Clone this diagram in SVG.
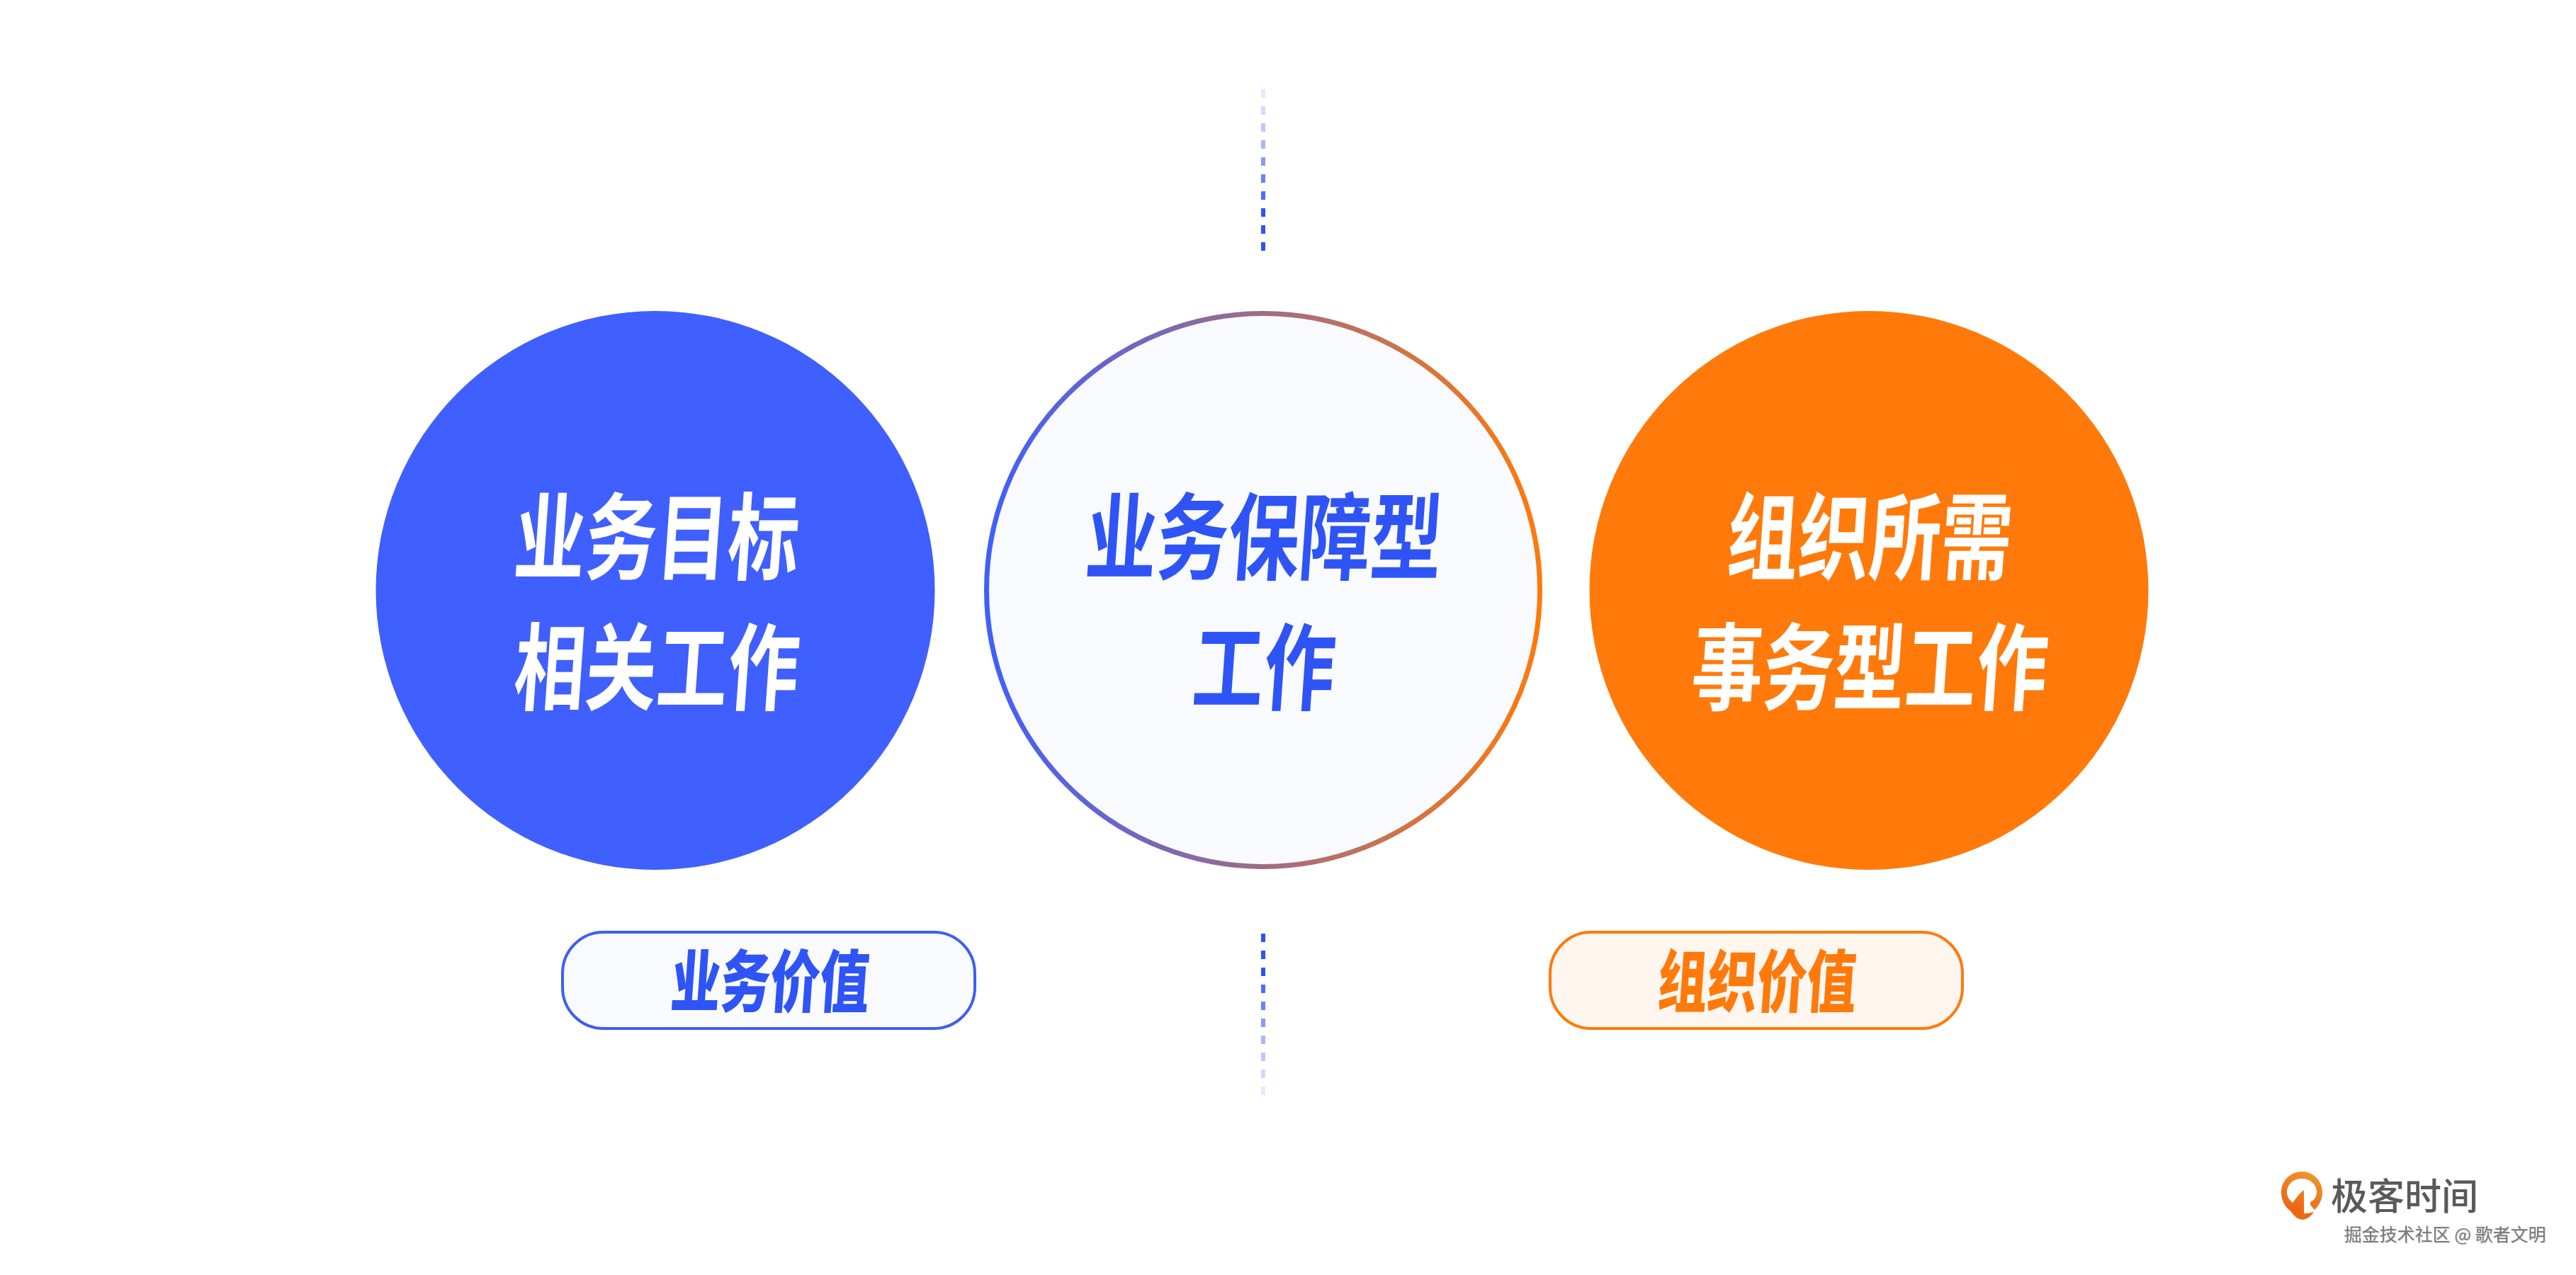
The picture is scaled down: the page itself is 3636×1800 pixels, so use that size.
<svg xmlns="http://www.w3.org/2000/svg" width="3636" height="1800" viewBox="0 0 3636 1800">
<style>
text{font-family:"Noto Sans CJK SC","Noto Sans",sans-serif;text-anchor:middle}
.big{font-size:134px;font-weight:700}
.tag{font-size:96px;font-weight:900}
.w{fill:#fff}.b{fill:#2F54F5}.o{fill:#FF7A0A}
.d{fill:#3053F6}
</style>
<defs>
<linearGradient id="ring" x1="0" y1="0" x2="1" y2="0"><stop offset="0" stop-color="#3F5FFF"/><stop offset="1" stop-color="#FF7A0A"/></linearGradient>
<linearGradient id="pin" x1="0.7" y1="0" x2="0.3" y2="1"><stop offset="0" stop-color="#F0952C"/><stop offset="1" stop-color="#EC5F12"/></linearGradient>
<filter id="emboss" x="-5%" y="-20%" width="110%" height="140%"><feDropShadow dx="1" dy="1" stdDeviation=".6" flood-color="#000" flood-opacity=".22"/></filter>
</defs>
<rect width="3636" height="1800" fill="#fff"/>
<g id="connectors">
<g id="dash-top" class="d">
<rect x="1780" y="126" width="6" height="12" opacity=".12"/><rect x="1780" y="150" width="6" height="12" opacity=".22"/><rect x="1780" y="174" width="6" height="12" opacity=".32"/><rect x="1780" y="198" width="6" height="12" opacity=".42"/><rect x="1780" y="222" width="6" height="12" opacity=".58"/><rect x="1780" y="246" width="6" height="12" opacity=".72"/><rect x="1780" y="270" width="6" height="12" opacity=".85"/><rect x="1780" y="294" width="6" height="12"/><rect x="1780" y="318" width="6" height="12"/><rect x="1780" y="342" width="6" height="12"/>
</g>
<g id="dash-bottom" class="d">
<rect x="1780" y="1318" width="6" height="12"/><rect x="1780" y="1342" width="6" height="12"/><rect x="1780" y="1366" width="6" height="12"/><rect x="1780" y="1390" width="6" height="12" opacity=".85"/><rect x="1780" y="1414" width="6" height="12" opacity=".72"/><rect x="1780" y="1438" width="6" height="12" opacity=".58"/><rect x="1780" y="1462" width="6" height="12" opacity=".42"/><rect x="1780" y="1486" width="6" height="12" opacity=".32"/><rect x="1780" y="1510" width="6" height="12" opacity=".22"/><rect x="1780" y="1534" width="6" height="12" opacity=".12"/>
</g>
</g>
<g id="node-business">
<circle cx="925" cy="833.5" r="394.5" fill="#3F5FFF"/>
<text class="big w" transform="translate(924 808) skewX(-4) scale(.75 1)">业务目标</text>
<text class="big w" transform="translate(924 992) skewX(-4) scale(.75 1)">相关工作</text>
</g>
<g id="node-support">
<circle cx="1783" cy="833" r="390.5" fill="#F8FAFE" stroke="url(#ring)" stroke-width="7"/>
<text class="big b" transform="translate(1781 808) skewX(-4) scale(.75 1)">业务保障型</text>
<text class="big b" transform="translate(1781 992) skewX(-4) scale(.75 1)">工作</text>
</g>
<g id="node-org">
<circle cx="2638" cy="833.5" r="394.5" fill="#FF7A0A"/>
<text class="big w" transform="translate(2636 808) skewX(-4) scale(.75 1)">组织所需</text>
<text class="big w" transform="translate(2636 992) skewX(-4) scale(.75 1)">事务型工作</text>
</g>
<g id="tag-business">
<rect x="794" y="1316" width="582" height="136" rx="58" fill="#F8FAFE" stroke="#3F5FF0" stroke-width="4"/>
<text class="tag b" transform="translate(1085 1421) skewX(-4) scale(.73 1)">业务价值</text>
</g>
<g id="tag-org">
<rect x="2188" y="1316" width="582" height="136" rx="58" fill="#FFF6F0" stroke="#FF7A0A" stroke-width="4"/>
<text class="tag o" transform="translate(2478 1421) skewX(-4) scale(.73 1)">组织价值</text>
</g>
<g id="logo">
<path fill="url(#pin)" fill-rule="evenodd" d="M3249 1654c16 0 29 13 29 29 0 11-5 19-11 25l-6-7 0-4c6-3 9-8 9-14 0-11-9-19-21-19s-21 8-21 19c0 6 3 11 8 15l10-13 6-5 0 36c-6 0-15-2-21-8-7-6-11-15-11-25 0-16 13-29 29-29z"/>
<path fill="#EE6A16" d="M3234 1711c10 3 21 3 32 0-4 6-9 10-16 11-7-1-12-5-16-11z"/>
<text x="3394" y="1708" fill="#5A5A5A" style="font-size:52px;font-weight:500">极客时间</text>
<text x="3451" y="1752" fill="#777" filter="url(#emboss)" style="font-size:25px">掘金技术社区 @ 歌者文明</text>
</g>
</svg>
